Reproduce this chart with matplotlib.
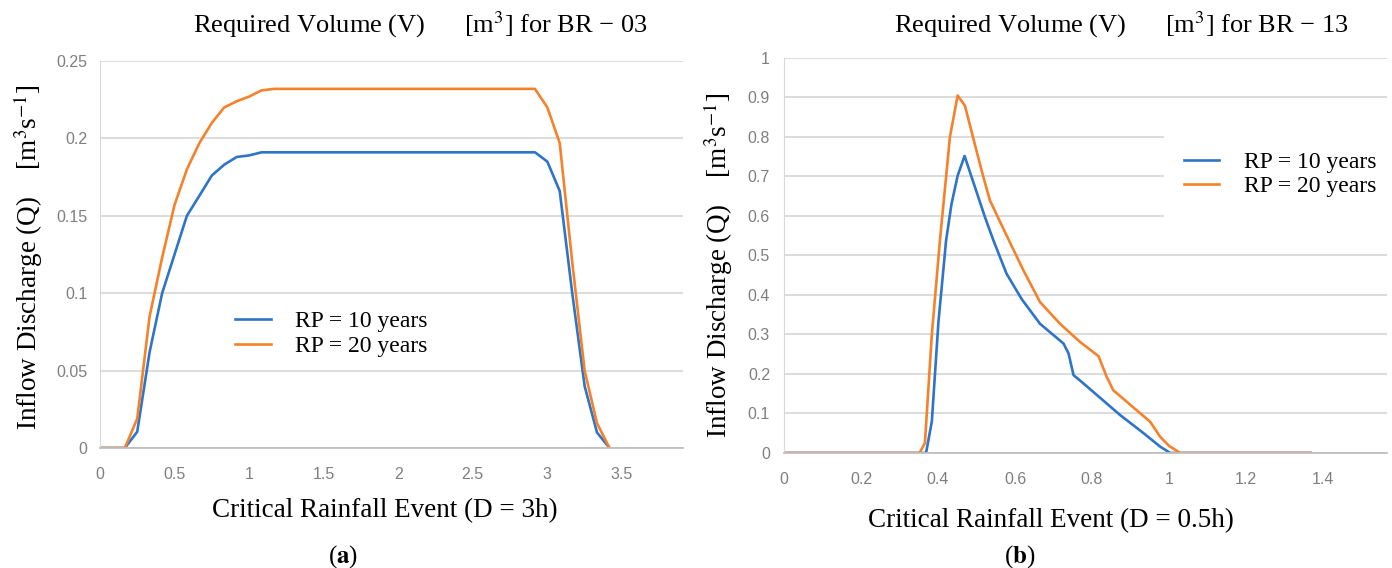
import matplotlib
matplotlib.use("Agg")
import matplotlib.pyplot as plt
from matplotlib.ticker import FormatStrFormatter

# BR-03, 3 h event
t_a = [0, 0.083, 0.167, 0.25, 0.333, 0.417, 0.5, 0.583, 0.667, 0.75, 0.833,
       0.917, 1.0, 1.083, 1.167, 2.917, 3.0, 3.083, 3.167, 3.25, 3.333, 3.417]
q10_a = [0, 0, 0, 0.0105, 0.062, 0.1, 0.125, 0.15, 0.163, 0.176, 0.183,
         0.188, 0.189, 0.191, 0.191, 0.191, 0.185, 0.166, 0.1, 0.04, 0.01, 0]
q20_a = [0, 0, 0, 0.019, 0.085, 0.123, 0.157, 0.18, 0.197, 0.21, 0.22,
         0.224, 0.227, 0.231, 0.232, 0.232, 0.22, 0.197, 0.12, 0.05, 0.016, 0]

# BR-13, 0.5 h event
t10_b = [0, 0.369, 0.384, 0.401, 0.421, 0.435, 0.451, 0.469, 0.522, 0.544,
         0.578, 0.617, 0.665, 0.726, 0.739, 0.752, 0.773, 0.873, 0.934,
         0.977, 1.003, 1.368]
q10_b = [0, 0, 0.08, 0.33, 0.538, 0.63, 0.702, 0.752, 0.597, 0.538,
         0.454, 0.39, 0.327, 0.277, 0.252, 0.197, 0.18, 0.096, 0.05,
         0.016, 0, 0]
t20_b = [0, 0.352, 0.366, 0.384, 0.405, 0.431, 0.451, 0.470, 0.500, 0.518,
         0.535, 0.574, 0.622, 0.665, 0.717, 0.769, 0.817, 0.838, 0.855,
         0.951, 0.977, 1.0, 1.029, 1.368]
q20_b = [0, 0, 0.025, 0.30, 0.538, 0.80, 0.905, 0.879, 0.765, 0.698,
         0.639, 0.559, 0.462, 0.382, 0.327, 0.281, 0.245, 0.193, 0.159,
         0.079, 0.041, 0.018, 0, 0]

labels = ["RP = 10 years", "RP = 20 years"]
blue = "#2e74c9"
orange = "#f5822b"
tick_grey = "#7f7f7f"
serif = ["Liberation Serif", "DejaVu Serif"]
tickfont = ["Liberation Sans Narrow", "Liberation Sans", "DejaVu Sans"]

plt.rcParams["mathtext.fontset"] = "stix"

fig = plt.figure(figsize=(13.92, 5.68), dpi=100)
ax1 = fig.add_axes([0.0718, 0.2113, 0.4189, 0.6813])
ax2 = fig.add_axes([0.5632, 0.2025, 0.4332, 0.6954])


def style(ax, xticks, yticks, xlim, ylim, xpad, ypad):
    ax.set_xlim(*xlim)
    ax.set_ylim(*ylim)
    ax.set_xticks(xticks)
    ax.set_yticks(yticks)
    ax.xaxis.set_major_formatter(FormatStrFormatter("%g"))
    ax.yaxis.set_major_formatter(FormatStrFormatter("%g"))
    ax.grid(axis="y", color="#d9d9d9", lw=1.3)
    ax.set_axisbelow(True)
    for s in ["top", "right"]:
        ax.spines[s].set_visible(False)
    ax.spines["left"].set_color("#d9d9d9")
    ax.spines["bottom"].set_color("#bfbfbf")
    ax.spines["bottom"].set_linewidth(1.3)
    ax.tick_params(axis="x", length=0, pad=xpad, labelcolor=tick_grey, labelsize=11.5)
    ax.tick_params(axis="y", length=0, pad=ypad, labelcolor=tick_grey, labelsize=11.5)
    for lab in ax.get_xticklabels() + ax.get_yticklabels():
        lab.set_family(tickfont)


style(ax1, [0, 0.5, 1, 1.5, 2, 2.5, 3, 3.5], [0, 0.05, 0.1, 0.15, 0.2, 0.25],
      (0, 3.91), (0, 0.25), 14, 9)
style(ax2, [0, 0.2, 0.4, 0.6, 0.8, 1, 1.2, 1.4], [i / 10 for i in range(11)],
      (0, 1.566), (0, 1), 14, 10)

ax1.plot(t_a, q10_a, color=blue, lw=1.9, label=labels[0])
ax1.plot(t_a, q20_a, color=orange, lw=1.9, label=labels[1])
ax2.plot(t10_b, q10_b, color=blue, lw=1.9, label=labels[0])
ax2.plot(t20_b, q20_b, color=orange, lw=1.9, label=labels[1])

leg_font = {"family": serif, "size": 17}
ax1.legend(loc="center left", bbox_to_anchor=(0.232, 0.295), frameon=False,
           borderpad=0, borderaxespad=0, handlelength=1.5, handletextpad=1.05,
           labelspacing=0.12, prop=leg_font)
ax2.legend(loc="center left", bbox_to_anchor=(0.630, 0.705), frameon=True,
           fancybox=False, edgecolor="none", facecolor="white", framealpha=1,
           borderpad=0.85, borderaxespad=0, handlelength=1.5, handletextpad=1.05,
           labelspacing=0.12, prop=leg_font)

ax1.text(0.549, 1.093, "Required Volume (V)      [m$^3$] for BR \u2212 03",
         transform=ax1.transAxes, ha="center", va="center", fontsize=19, family=serif)
ax2.text(0.559, 1.084, "Required Volume (V)      [m$^3$] for BR \u2212 13",
         transform=ax2.transAxes, ha="center", va="center", fontsize=19, family=serif)

ylab = "Inflow Discharge (Q)    [m$^3$s$^{-1}$]"
ax1.set_ylabel(ylab, fontsize=19.5, family=serif)
ax1.yaxis.set_label_coords(-0.094, 0.4935)
ax2.set_ylabel(ylab, fontsize=19.5, family=serif)
ax2.yaxis.set_label_coords(-0.0805, 0.476)

ax1.set_xlabel("Critical Rainfall Event (D = 3h)", fontsize=19.5, family=serif)
ax1.xaxis.set_label_coords(0.489, -0.13)
ax2.set_xlabel("Critical Rainfall Event (D = 0.5h)", fontsize=19.5, family=serif)
ax2.xaxis.set_label_coords(0.443, -0.139)

fig.text(0.2464, 0.02, "($\\mathbf{a}$)", ha="center", va="center", fontsize=18, family=serif)
fig.text(0.7328, 0.02, "($\\mathbf{b}$)", ha="center", va="center", fontsize=18, family=serif)

fig.savefig("out.png", dpi=100)
